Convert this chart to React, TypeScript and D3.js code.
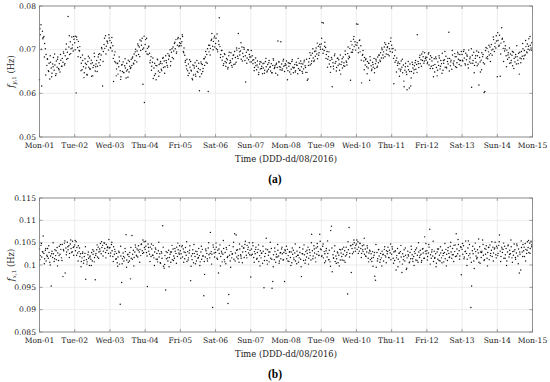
import React from 'react';
import * as d3 from 'd3';

// values in mHz (axis shows Hz); f* arrays: every 30 min, g* arrays: hourly, offset samples
const dayLabels = ['Mon-01', 'Tue-02', 'Wed-03', 'Thu-04', 'Fri-05', 'Sat-06', 'Sun-07', 'Mon-08', 'Tue-09', 'Wed-10', 'Thu-11', 'Fri-12', 'Sat-13', 'Sun-14', 'Mon-15'];
const yTicksA = [0.05, 0.06, 0.07, 0.08];
const yTicksB = [0.085, 0.09, 0.095, 0.1, 0.105, 0.11, 0.115];

// panel (a)
const fA01 = [63.1, 73.4, 75.7, 61.7, 74.2, 72.8, 73.0, 71.4, 70.2, 68.9, 66.4, 67.8, 65.2, 66.9, 63.3, 67.1, 65.8, 64.6, 66.7, 68.2, 65.3, 66.5, 64.1, 67.4, 66.0, 68.3, 65.7, 66.8, 64.9, 67.6, 66.2, 68.0, 67.1, 69.2, 66.5, 68.6, 70.1, 67.8, 69.4, 77.6, 70.6, 68.9, 71.8, 70.2, 72.9, 71.1, 69.7, 72.4];
const fA02 = [71.6, 73.1, 60.1, 72.3, 70.5, 71.9, 69.8, 70.7, 68.2, 66.9, 65.4, 67.5, 66.1, 64.7, 67.9, 65.8, 66.6, 64.2, 67.3, 66.0, 68.1, 65.5, 66.8, 63.9, 67.0, 65.9, 66.4, 68.4, 65.1, 66.7, 67.5, 66.2, 68.3, 67.0, 69.1, 67.7, 68.8, 70.2, 61.7, 69.6, 71.2, 70.3, 73.2, 70.8, 72.0, 71.5, 69.9, 72.7];
const fA03 = [72.1, 70.4, 71.6, 69.7, 70.9, 62.7, 68.8, 69.5, 67.0, 65.6, 66.8, 64.4, 66.1, 67.4, 65.2, 63.8, 66.5, 65.0, 67.2, 64.7, 66.3, 65.8, 63.5, 66.9, 65.4, 67.6, 64.9, 66.2, 65.7, 67.8, 66.4, 68.3, 66.9, 69.0, 67.5, 70.1, 68.6, 69.7, 71.3, 68.9, 70.6, 72.2, 69.8, 71.0, 72.6, 62.1, 70.4, 57.9];
const fA04 = [71.2, 69.6, 72.6, 70.3, 68.9, 70.8, 69.2, 67.6, 68.4, 66.2, 67.1, 63.4, 65.8, 66.9, 64.5, 63.1, 66.3, 67.7, 65.1, 66.6, 64.8, 67.3, 65.5, 66.8, 68.0, 65.9, 67.4, 66.1, 68.6, 67.0, 66.4, 69.1, 67.8, 68.5, 70.0, 67.3, 69.4, 68.2, 70.6, 69.7, 71.4, 70.2, 72.3, 69.5, 71.0, 72.8, 70.7, 71.6];
const fA05 = [72.5, 70.9, 71.8, 73.0, 69.6, 70.4, 68.7, 67.5, 66.3, 67.8, 65.2, 66.7, 64.6, 66.0, 67.3, 65.1, 63.4, 66.5, 64.2, 65.8, 67.0, 63.9, 66.2, 65.0, 64.8, 66.9, 60.6, 65.4, 67.2, 64.5, 66.6, 65.7, 67.9, 66.4, 68.3, 67.1, 68.9, 70.2, 60.4, 69.5, 71.0, 70.3, 72.1, 73.7, 70.8, 71.9, 72.7, 70.6];
const fA06 = [71.4, 70.2, 73.6, 69.5, 72.0, 77.3, 70.7, 68.9, 69.8, 67.6, 68.4, 66.8, 69.1, 67.3, 66.2, 68.0, 67.7, 65.9, 68.6, 66.9, 67.5, 69.3, 66.4, 67.9, 68.7, 66.6, 69.6, 68.2, 67.1, 69.9, 68.5, 73.7, 70.3, 68.8, 69.7, 67.8, 70.6, 69.2, 68.4, 70.1, 67.5, 62.6, 69.4, 68.1, 70.0, 67.7, 68.9, 67.2];
const fA07 = [68.3, 67.2, 68.6, 66.8, 67.7, 65.9, 67.0, 66.3, 65.4, 67.4, 66.0, 64.8, 66.7, 65.6, 67.1, 66.2, 64.5, 65.8, 66.9, 65.3, 67.3, 66.1, 64.9, 66.6, 65.5, 67.5, 66.0, 65.1, 66.8, 64.7, 66.4, 67.6, 65.7, 66.3, 64.6, 66.9, 65.9, 72.0, 67.2, 66.1, 65.4, 71.8, 66.7, 65.6, 67.4, 66.2, 65.0, 66.8];
const fA08 = [66.5, 65.8, 63.1, 67.0, 66.2, 64.9, 66.8, 65.5, 67.3, 66.0, 64.7, 65.9, 66.6, 65.2, 67.1, 66.4, 64.5, 65.7, 66.9, 65.3, 67.4, 66.1, 65.0, 66.7, 65.6, 67.6, 66.3, 64.8, 67.8, 63.0, 63.3, 67.2, 68.0, 66.5, 68.7, 67.4, 69.2, 68.1, 67.3, 69.6, 68.5, 70.4, 69.0, 67.9, 70.8, 69.3, 71.2, 70.1];
const fA09 = [71.3, 76.2, 70.1, 76.1, 69.8, 71.7, 70.5, 68.9, 69.6, 67.8, 68.4, 66.7, 67.5, 66.1, 68.2, 61.5, 67.0, 65.6, 68.6, 66.9, 67.3, 65.9, 68.0, 66.4, 67.7, 65.3, 68.8, 66.6, 67.2, 65.8, 68.3, 67.0, 66.2, 68.9, 67.4, 66.5, 69.1, 67.9, 68.5, 70.3, 63.0, 69.4, 71.1, 70.0, 72.4, 70.7, 71.8, 69.9];
const fA10 = [75.9, 71.6, 75.8, 70.4, 72.1, 69.5, 70.9, 62.4, 68.7, 69.8, 67.4, 68.2, 66.5, 67.9, 66.1, 67.3, 65.8, 66.9, 63.0, 67.6, 66.3, 65.5, 67.1, 66.0, 68.0, 65.7, 66.8, 67.4, 65.9, 68.3, 67.0, 68.7, 67.6, 69.3, 68.1, 70.0, 68.8, 69.5, 70.6, 68.4, 71.2, 69.9, 70.5, 68.9, 71.4, 70.2, 69.6, 72.7];
const fA11 = [71.0, 69.4, 70.3, 62.2, 68.6, 69.9, 67.5, 68.1, 66.4, 67.2, 65.6, 66.8, 65.1, 67.4, 66.0, 64.7, 66.5, 61.5, 65.3, 66.9, 64.9, 60.8, 66.2, 65.4, 61.2, 66.7, 61.7, 65.0, 67.1, 65.8, 64.6, 66.3, 67.0, 65.5, 66.6, 73.4, 67.3, 65.9, 68.2, 66.8, 67.7, 69.0, 67.5, 68.4, 66.9, 69.3, 68.0, 67.6];
const fA12 = [68.2, 67.1, 69.0, 66.5, 67.8, 68.6, 66.2, 67.4, 65.7, 63.8, 67.9, 66.6, 68.3, 65.9, 64.0, 67.2, 66.4, 68.1, 65.6, 67.5, 66.8, 69.2, 65.3, 66.9, 67.7, 66.0, 68.5, 65.8, 67.3, 66.7, 74.0, 68.0, 66.3, 67.6, 65.5, 68.8, 66.9, 67.4, 69.1, 66.1, 68.4, 67.0, 69.4, 67.8, 66.6, 68.9, 67.5, 69.6];
const fA13 = [68.9, 67.4, 69.6, 68.1, 66.8, 69.2, 67.7, 68.5, 66.6, 69.9, 67.2, 68.3, 66.9, 61.4, 68.7, 67.5, 69.4, 66.4, 68.0, 67.1, 69.7, 68.6, 66.7, 61.9, 68.2, 64.9, 67.6, 69.3, 68.4, 67.0, 60.2, 60.4, 69.8, 68.1, 70.3, 67.9, 69.5, 68.8, 70.6, 69.1, 71.2, 68.7, 70.1, 72.3, 69.6, 71.5, 70.4, 72.0];
const fA14 = [63.8, 72.1, 70.8, 73.3, 63.9, 71.5, 75.0, 72.6, 70.3, 71.8, 69.7, 70.9, 68.6, 69.9, 67.8, 69.3, 68.2, 66.9, 69.0, 67.5, 68.7, 66.3, 69.4, 68.0, 67.2, 68.9, 66.7, 68.4, 67.6, 69.2, 64.4, 68.1, 67.0, 69.6, 68.5, 70.2, 67.9, 69.8, 68.8, 70.7, 69.5, 71.3, 70.1, 72.5, 69.9, 71.0, 70.4, 71.6];

const gA01 = [74.8, 70.1, 72.5, 68.3, 64.2, 67.9, 65.0, 68.6, 63.8, 66.1, 69.0, 64.5, 67.8, 65.4, 68.9, 66.2, 69.5, 66.8, 71.3, 68.0, 73.2, 69.1, 70.4, 73.0];
const gA02 = [70.0, 72.9, 68.4, 69.7, 65.2, 68.8, 63.6, 66.9, 64.3, 68.5, 65.7, 67.6, 64.0, 69.2, 66.1, 65.0, 68.9, 66.4, 70.5, 67.3, 72.6, 69.0, 71.8, 73.4];
const gA03 = [70.5, 72.8, 68.0, 67.3, 64.0, 66.9, 68.3, 63.2, 66.6, 64.8, 67.9, 65.1, 63.7, 67.3, 65.9, 68.1, 66.7, 69.5, 67.2, 70.9, 68.4, 72.0, 70.1, 73.1];
const gA04 = [72.3, 69.0, 70.6, 67.0, 65.3, 68.1, 64.1, 66.4, 67.8, 63.9, 66.9, 65.2, 68.2, 64.6, 67.5, 66.0, 68.7, 66.3, 70.2, 67.9, 71.7, 69.2, 72.5, 70.9];
const gA05 = [71.4, 73.4, 69.3, 67.1, 65.6, 64.1, 67.7, 65.3, 63.1, 66.3, 64.4, 67.5, 65.7, 63.8, 66.8, 65.0, 67.9, 69.6, 66.9, 71.0, 68.8, 72.4, 70.0, 73.1];
const gA06 = [72.6, 70.0, 71.2, 68.2, 69.8, 66.4, 68.9, 67.0, 65.6, 69.4, 67.1, 66.0, 68.8, 66.7, 70.4, 68.0, 69.5, 71.6, 67.4, 70.5, 68.6, 66.9, 69.9, 68.3];
const gA07 = [69.8, 67.6, 65.2, 68.1, 66.5, 64.3, 67.3, 65.7, 66.8, 64.6, 68.0, 65.1, 67.0, 66.1, 64.7, 67.9, 65.9, 66.6, 64.2, 67.2, 66.0, 65.3, 67.8, 66.4];
const gA08 = [67.4, 65.2, 66.9, 64.4, 67.7, 65.8, 64.9, 66.5, 68.0, 65.3, 66.8, 64.6, 67.2, 65.9, 64.8, 66.4, 69.3, 66.8, 70.2, 67.6, 69.7, 71.5, 68.7, 70.6];
const gA09 = [72.6, 69.2, 70.8, 68.0, 66.0, 69.5, 64.8, 67.8, 66.2, 69.0, 65.1, 68.1, 66.7, 64.4, 67.9, 66.3, 69.7, 67.1, 70.6, 68.2, 71.9, 69.4, 73.0, 71.1];
const gA10 = [71.0, 69.3, 72.2, 67.6, 68.9, 65.4, 67.7, 64.5, 66.9, 68.4, 65.2, 66.6, 64.7, 67.8, 66.2, 68.8, 67.3, 70.4, 68.1, 71.6, 69.0, 70.7, 68.6, 71.9];
const gA11 = [70.2, 68.0, 67.1, 64.9, 66.9, 63.9, 65.5, 67.8, 62.8, 66.1, 64.3, 67.3, 65.0, 63.5, 66.6, 65.4, 67.5, 64.8, 66.8, 68.7, 66.2, 69.5, 67.4, 68.3];
const gA12 = [66.8, 69.3, 65.7, 68.2, 66.4, 64.9, 67.9, 65.3, 68.6, 66.2, 64.6, 67.5, 69.6, 66.0, 68.0, 65.1, 67.2, 69.8, 66.5, 68.4, 65.9, 69.0, 67.6, 66.3];
const gA13 = [67.6, 70.0, 66.5, 68.8, 65.8, 67.9, 70.2, 66.9, 64.7, 68.6, 66.3, 69.4, 67.2, 65.4, 68.9, 66.7, 70.5, 68.4, 71.0, 67.3, 69.9, 72.9, 70.7, 73.2];
const gA14 = [73.9, 71.0, 69.0, 72.4, 67.3, 70.2, 66.1, 68.8, 70.4, 67.0, 69.6, 65.7, 68.3, 70.9, 66.8, 69.4, 67.9, 71.4, 68.6, 72.1, 69.3, 70.8, 73.0, 69.9];

// panel (b)
const fB01 = [103.6, 102.1, 104.4, 101.8, 103.0, 106.5, 102.6, 101.4, 103.3, 100.9, 102.2, 103.7, 101.5, 102.8, 100.6, 102.0, 95.3, 103.1, 101.7, 102.5, 100.8, 103.4, 102.1, 101.2, 103.9, 102.7, 101.0, 104.2, 102.4, 103.5, 101.6, 104.6, 97.4, 103.2, 104.9, 98.2, 103.8, 102.9, 105.1, 103.4, 104.3, 102.6, 104.7, 103.7, 102.8, 105.3, 103.9, 104.1];
const fB02 = [104.5, 103.2, 105.2, 103.9, 102.7, 104.3, 103.0, 101.9, 102.5, 100.8, 101.6, 102.9, 100.4, 101.9, 102.6, 96.8, 101.2, 100.7, 102.3, 101.5, 99.9, 102.0, 101.3, 102.8, 100.9, 102.4, 103.1, 101.7, 96.7, 102.6, 103.4, 101.8, 104.0, 102.9, 103.6, 104.8, 102.5, 103.9, 104.4, 103.1, 105.0, 103.7, 102.8, 104.6, 103.3, 104.1, 102.6, 103.8];
const fB03 = [103.9, 102.7, 104.6, 103.2, 101.9, 104.1, 102.4, 103.0, 101.3, 102.6, 100.5, 101.8, 103.1, 100.2, 91.2, 102.0, 96.1, 101.4, 102.7, 100.9, 101.6, 103.0, 106.8, 101.1, 102.3, 100.6, 101.9, 102.8, 96.9, 101.5, 106.6, 102.4, 103.3, 101.7, 102.9, 104.0, 102.2, 103.6, 101.8, 104.3, 102.9, 103.5, 102.1, 104.7, 103.2, 105.6, 102.8, 103.9];
const fB04 = [103.5, 104.2, 102.8, 95.2, 104.7, 103.1, 102.4, 104.0, 101.9, 103.6, 102.2, 104.4, 101.6, 102.9, 103.8, 101.3, 102.6, 100.7, 103.2, 101.8, 102.5, 100.4, 103.0, 101.5, 108.8, 99.7, 99.3, 102.1, 94.4, 101.4, 102.8, 100.9, 103.3, 101.7, 102.4, 100.6, 102.9, 101.2, 103.6, 102.0, 101.5, 103.1, 102.6, 104.0, 101.9, 103.4, 102.7, 104.3];
const fB05 = [103.2, 102.5, 104.1, 101.8, 103.6, 102.9, 101.4, 103.9, 102.2, 100.8, 103.0, 101.6, 102.7, 104.3, 96.5, 102.0, 101.2, 103.4, 100.5, 102.6, 101.9, 103.1, 100.9, 102.4, 101.5, 103.7, 102.1, 100.7, 102.9, 101.3, 103.5, 102.0, 93.1, 97.9, 101.8, 103.2, 102.6, 100.9, 103.8, 102.3, 101.6, 107.3, 103.0, 102.4, 90.5, 104.0, 102.7, 103.5];
const fB06 = [102.8, 104.0, 101.5, 103.3, 98.2, 102.6, 104.5, 101.9, 103.1, 100.7, 102.4, 103.7, 101.2, 102.8, 100.3, 103.5, 101.7, 91.4, 93.4, 102.2, 100.9, 103.0, 101.6, 102.5, 104.1, 101.3, 107.0, 102.7, 106.7, 101.8, 103.4, 102.1, 100.6, 103.6, 102.3, 101.5, 104.2, 102.9, 103.8, 101.7, 104.6, 103.0, 102.2, 104.4, 103.5, 102.7, 105.0, 103.3];
const fB07 = [97.3, 103.6, 102.4, 104.3, 101.7, 103.0, 102.5, 104.0, 101.3, 102.8, 103.5, 100.8, 102.1, 103.2, 101.6, 102.7, 100.4, 103.1, 94.9, 101.9, 102.6, 106.0, 101.0, 103.4, 102.2, 100.7, 102.9, 101.5, 103.7, 94.8, 96.3, 102.3, 101.2, 103.0, 100.6, 102.4, 101.8, 103.3, 102.0, 100.9, 102.7, 101.4, 103.6, 102.5, 101.1, 102.8, 96.3, 103.2];
const fB08 = [102.6, 101.4, 103.5, 102.1, 100.8, 103.0, 101.7, 102.9, 100.5, 102.4, 103.3, 101.2, 102.7, 100.9, 101.9, 103.1, 102.2, 100.6, 101.6, 102.8, 101.3, 97.4, 102.5, 103.6, 101.0, 102.3, 100.4, 103.0, 101.8, 102.6, 104.0, 101.5, 103.4, 102.1, 101.1, 106.9, 103.2, 102.0, 104.3, 102.7, 101.6, 103.8, 102.4, 104.1, 103.0, 102.2, 106.9, 103.6];
const fB09 = [103.4, 102.1, 104.2, 101.6, 103.0, 102.5, 100.9, 103.7, 101.8, 102.6, 101.2, 103.3, 100.7, 107.7, 108.7, 98.5, 102.3, 101.5, 103.1, 100.8, 102.0, 101.4, 102.9, 100.5, 102.2, 103.5, 101.1, 102.7, 101.9, 103.6, 102.4, 101.0, 103.2, 102.0, 104.0, 102.8, 93.5, 103.4, 108.4, 102.6, 104.3, 98.3, 103.7, 104.6, 102.9, 105.0, 103.8, 104.4];
const fB10 = [104.7, 103.5, 105.2, 104.0, 103.1, 104.8, 103.7, 102.6, 104.3, 103.0, 104.5, 102.4, 103.6, 101.9, 102.9, 103.8, 101.5, 102.7, 103.3, 101.2, 102.5, 100.8, 103.0, 101.7, 102.2, 97.5, 96.6, 99.5, 102.8, 101.4, 103.4, 102.0, 100.6, 102.6, 101.6, 103.1, 102.3, 100.9, 103.5, 102.1, 101.8, 103.2, 102.5, 104.0, 101.7, 103.3, 102.7, 101.2];
const fB11 = [102.4, 103.6, 101.5, 102.9, 101.0, 103.2, 98.9, 102.1, 103.7, 101.3, 102.6, 100.7, 103.0, 101.8, 98.3, 102.5, 101.2, 103.4, 100.9, 102.2, 99.0, 101.6, 103.1, 102.0, 100.5, 102.8, 101.4, 103.5, 102.3, 100.8, 101.9, 103.0, 102.6, 101.1, 103.8, 102.2, 100.6, 102.9, 101.7, 103.3, 102.4, 101.0, 103.6, 102.7, 101.5, 106.3, 103.1, 102.5];
const fB12 = [103.2, 101.9, 102.7, 104.0, 108.0, 102.3, 101.5, 103.4, 102.0, 100.8, 103.1, 101.7, 102.5, 100.4, 102.9, 101.3, 103.6, 102.2, 100.9, 102.7, 101.6, 103.3, 102.1, 100.7, 102.8, 101.4, 103.5, 102.4, 101.0, 103.9, 102.6, 101.8, 104.2, 102.9, 101.5, 103.7, 102.3, 104.4, 103.0, 101.9, 107.0, 103.6, 102.5, 104.6, 103.2, 102.0, 104.1, 97.8];
const fB13 = [103.5, 102.4, 104.3, 101.8, 103.0, 105.4, 102.6, 101.3, 103.8, 102.1, 104.6, 101.6, 90.5, 95.3, 103.2, 102.5, 100.9, 103.6, 104.9, 102.0, 101.4, 103.4, 102.7, 100.6, 104.1, 102.9, 101.7, 103.1, 105.6, 102.2, 101.0, 103.7, 102.4, 104.3, 101.5, 102.8, 103.9, 101.2, 104.5, 102.6, 103.3, 101.9, 104.0, 102.7, 103.6, 105.1, 102.3, 104.2];
const fB14 = [103.8, 102.6, 104.4, 106.7, 103.1, 101.9, 104.0, 102.8, 103.5, 101.5, 104.2, 102.3, 103.7, 100.9, 102.9, 104.5, 101.8, 103.3, 102.5, 104.1, 101.6, 103.0, 102.2, 104.7, 103.4, 101.3, 102.7, 104.3, 102.0, 103.6, 98.2, 102.4, 98.9, 103.9, 102.9, 104.6, 103.2, 101.9, 104.8, 103.5, 102.6, 105.2, 103.9, 102.8, 104.9, 103.7, 105.3, 104.1];

const gB01 = [101.2, 104.8, 102.9, 100.3, 103.7, 101.9, 104.3, 100.0, 102.5, 105.0, 101.4, 103.2, 99.8, 102.1, 104.6, 101.0, 103.5, 105.4, 102.3, 104.1, 101.7, 105.6, 103.0, 102.2];
const gB02 = [105.5, 102.2, 100.9, 103.8, 99.6, 102.6, 101.0, 104.1, 100.2, 102.9, 101.8, 99.9, 103.4, 100.7, 102.2, 104.5, 101.5, 103.1, 105.2, 102.0, 104.9, 101.6, 103.9, 105.7];
const gB03 = [102.0, 105.1, 100.8, 103.5, 101.4, 99.7, 102.8, 104.2, 100.3, 101.9, 103.7, 99.5, 102.4, 100.9, 103.9, 101.3, 99.8, 104.5, 102.0, 103.3, 100.6, 104.6, 102.6, 105.2];
const gB04 = [105.3, 102.0, 103.9, 100.8, 104.7, 102.2, 99.9, 103.5, 101.3, 105.1, 100.5, 102.7, 104.0, 100.1, 103.0, 101.6, 99.6, 102.9, 104.4, 101.0, 103.7, 100.4, 104.9, 102.4];
const gB05 = [101.5, 104.4, 100.6, 102.8, 105.2, 101.1, 103.3, 99.7, 102.5, 104.6, 100.3, 103.0, 101.7, 99.9, 104.2, 102.0, 100.8, 103.6, 101.4, 105.0, 102.6, 100.2, 104.5, 101.8];
const gB06 = [104.9, 101.3, 103.6, 99.8, 102.7, 105.5, 100.7, 103.9, 101.9, 104.4, 99.5, 102.4, 105.1, 100.9, 103.3, 101.4, 104.7, 102.0, 100.5, 103.8, 105.3, 101.6, 104.0, 102.3];
const gB07 = [102.2, 105.0, 100.6, 103.5, 101.5, 104.5, 99.8, 102.6, 104.2, 101.0, 103.6, 100.2, 102.9, 105.1, 101.3, 99.6, 103.8, 101.8, 104.6, 100.4, 102.8, 104.0, 101.2, 103.4];
const gB08 = [104.2, 100.9, 102.9, 99.9, 103.8, 101.6, 104.7, 100.3, 102.2, 103.9, 99.6, 102.5, 104.5, 101.1, 103.3, 100.2, 102.8, 105.0, 101.4, 103.6, 100.7, 104.8, 102.1, 105.3];
const gB09 = [101.9, 104.7, 100.5, 103.2, 105.4, 101.2, 99.7, 103.8, 101.6, 104.3, 100.4, 102.7, 99.8, 103.4, 101.1, 104.0, 100.6, 102.3, 105.2, 101.8, 104.4, 102.5, 105.6, 103.1];
const gB10 = [105.6, 102.6, 104.9, 101.7, 103.4, 106.0, 102.0, 104.3, 100.7, 103.1, 101.5, 99.7, 102.8, 104.6, 100.9, 103.5, 101.2, 99.8, 102.4, 104.1, 100.5, 103.0, 101.6, 104.7];
const gB11 = [104.1, 100.4, 103.0, 101.6, 99.6, 102.7, 104.4, 100.2, 101.9, 103.8, 99.3, 102.3, 100.7, 104.2, 101.4, 99.9, 103.4, 101.0, 105.0, 102.1, 100.6, 103.7, 101.5, 104.8];
const gB12 = [101.1, 104.6, 100.2, 102.9, 105.3, 101.5, 99.6, 103.6, 101.0, 104.1, 100.5, 102.6, 104.8, 99.8, 103.2, 101.7, 105.1, 102.3, 100.8, 104.5, 102.0, 105.7, 101.3, 103.9];
const gB13 = [104.8, 101.4, 103.1, 99.9, 105.4, 102.5, 100.6, 104.2, 99.2, 103.0, 101.7, 105.8, 100.4, 102.8, 104.6, 101.2, 103.5, 99.8, 104.0, 102.1, 105.2, 100.9, 103.8, 101.6];
const gB14 = [102.1, 105.2, 100.8, 103.6, 104.9, 101.5, 99.9, 104.3, 102.4, 105.6, 100.6, 103.1, 101.7, 104.7, 100.3, 102.9, 105.4, 101.9, 104.0, 100.9, 103.3, 105.5, 102.6, 104.5];

const daysA = [fA01, fA02, fA03, fA04, fA05, fA06, fA07, fA08, fA09, fA10, fA11, fA12, fA13, fA14];
const extraA = [gA01, gA02, gA03, gA04, gA05, gA06, gA07, gA08, gA09, gA10, gA11, gA12, gA13, gA14];
const daysB = [fB01, fB02, fB03, fB04, fB05, fB06, fB07, fB08, fB09, fB10, fB11, fB12, fB13, fB14];
const extraB = [gB01, gB02, gB03, gB04, gB05, gB06, gB07, gB08, gB09, gB10, gB11, gB12, gB13, gB14];

const serif = 'DejaVu Serif';
const axisCol = '#7a7a7a';
const gridCol = '#e4e4e4';

function samples(days, offset) {
  return days.flatMap((arr, d) => arr.map((v, i) => ({ t: d + (i + offset) / arr.length, v })));
}

function Panel({ top, bottom, days, extra, yDomain, yTicks, sub, tag }) {
  const left = 39.5, right = 532.5;
  const x = d3.scaleLinear().domain([0, dayLabels.length - 1]).range([left, right]);
  const y = d3.scaleLinear().domain(yDomain).range([bottom, top]);
  const fmt = d3.format('~g');
  const pts = samples(days, 0).concat(samples(extra, 0.3));
  const midX = (left + right) / 2;

  return (
    <g>
      {dayLabels.map((_, i) => (
        <line key={'gx' + i} x1={x(i)} x2={x(i)} y1={top} y2={bottom} stroke={gridCol} strokeWidth={0.7} />
      ))}
      {yTicks.map((t) => (
        <line key={'gy' + t} x1={left} x2={right} y1={y(t * 1000)} y2={y(t * 1000)} stroke={gridCol} strokeWidth={0.7} />
      ))}
      {pts.map((p, i) => (
        <circle key={i} cx={x(p.t)} cy={y(p.v)} r={0.72} fill="#111" />
      ))}
      <rect x={left} y={top} width={right - left} height={bottom - top} fill="none" stroke={axisCol} strokeWidth={0.8} />
      {dayLabels.map((lab, i) => (
        <g key={'tx' + i}>
          <line x1={x(i)} x2={x(i)} y1={bottom} y2={bottom - 3} stroke={axisCol} strokeWidth={0.7} />
          <line x1={x(i)} x2={x(i)} y1={top} y2={top + 3} stroke={axisCol} strokeWidth={0.7} />
          <text x={x(i)} y={bottom + 11} textAnchor="middle" fontFamily={serif} fontSize={7.6} fill="#222">{lab}</text>
        </g>
      ))}
      {yTicks.map((t) => (
        <g key={'ty' + t}>
          <line x1={left} x2={left + 3} y1={y(t * 1000)} y2={y(t * 1000)} stroke={axisCol} strokeWidth={0.7} />
          <line x1={right} x2={right - 3} y1={y(t * 1000)} y2={y(t * 1000)} stroke={axisCol} strokeWidth={0.7} />
          <text x={left - 3.5} y={y(t * 1000)} dy="0.35em" textAnchor="end" fontFamily={serif} fontSize={7.6} fill="#222">{fmt(t)}</text>
        </g>
      ))}
      <text x={midX} y={bottom + 25} textAnchor="middle" fontFamily={serif} fontSize={8.4} fill="#222">Time (DDD-dd/08/2016)</text>
      <text transform={`translate(14,${(top + bottom) / 2}) rotate(-90)`} textAnchor="middle" fontFamily={serif} fontSize={8.4} fill="#222">
        <tspan fontStyle="italic">f</tspan>
        <tspan fontSize={5.6} dy={2}><tspan fontStyle="italic">{sub[0]}</tspan>{sub.slice(1)}</tspan>
        <tspan dy={-2}> (Hz)</tspan>
      </text>
      <text x={275} y={bottom + 46} textAnchor="middle" fontFamily="Liberation Serif" fontWeight="bold" fontSize={11.5} fill="#000">{tag}</text>
    </g>
  );
}

export default function App() {
  return (
    <svg width={550} height={382} style={{ position: 'absolute', left: 0, top: 0, background: '#fff' }}>
      <rect width={550} height={382} fill="#fff" />
      <Panel top={6} bottom={137} days={daysA} extra={extraA} yDomain={[50, 80]} yTicks={yTicksA} sub="y,1" tag="(a)" />
      <Panel top={198} bottom={332} days={daysB} extra={extraB} yDomain={[85, 115]} yTicks={yTicksB} sub="x,1" tag="(b)" />
    </svg>
  );
}
